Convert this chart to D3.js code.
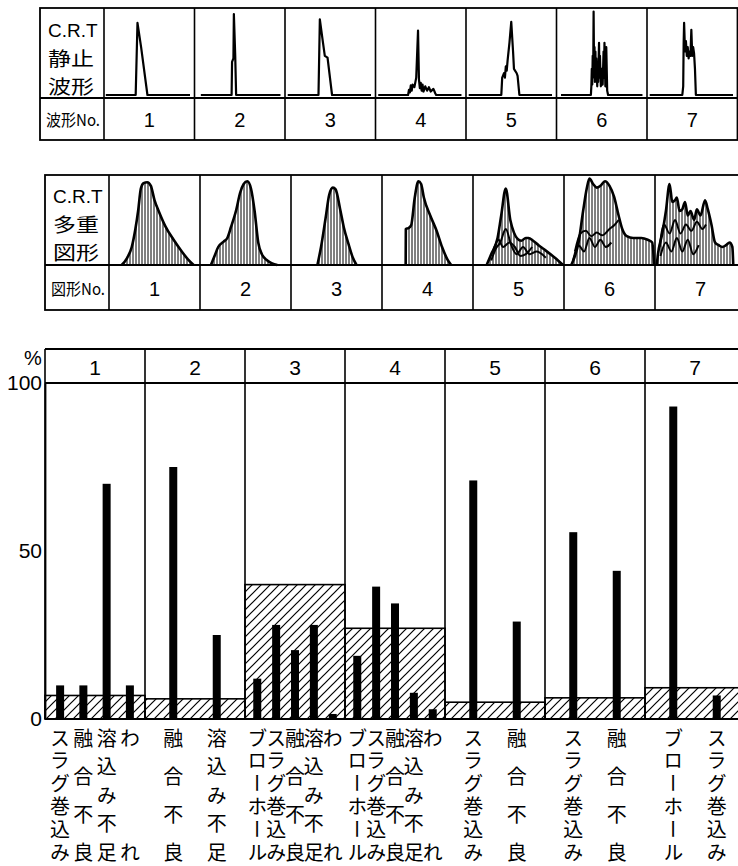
<!DOCTYPE html>
<html>
<head>
<meta charset="utf-8">
<script src="https://cdn.jsdelivr.net/npm/d3@7"></script>
<style>
  html, body { margin: 0; padding: 0; background: #fff; }
  svg { display: block; }
</style>
</head>
<body>
<svg id="fig" width="738" height="866"></svg>
<script>
// ---------------- data ----------------
const patternNos = ["1", "2", "3", "4", "5", "6", "7"];

// C.R.T static waveforms: [position across cell 0..1, amplitude 0..1]
const staticWave1 = [[0.02,0],[0.35,0],[0.37,0.83],[0.41,0.55],[0.48,0],[0.95,0]];
const staticWave2 = [[0.07,0],[0.41,0],[0.415,0.38],[0.43,0.42],[0.435,0.93],[0.45,0.45],[0.46,0],[0.95,0]];
const staticWave3 = [[0.03,0],[0.37,0],[0.385,0.87],[0.42,0.6],[0.44,0.45],[0.47,0.43],[0.52,0],[0.95,0]];
const staticWave4 = [[0.03,0],[0.36,0],[0.37,0.06],[0.38,0.03],[0.39,0.11],[0.40,0.05],[0.41,0.12],[0.43,0.09],[0.45,0.2],[0.47,0.74],[0.48,0.18],[0.49,0.08],[0.50,0.14],[0.51,0.05],[0.52,0.12],[0.53,0.04],[0.55,0.1],[0.57,0.05],[0.59,0.09],[0.61,0.04],[0.64,0.07],[0.66,0.02],[0.67,0],[0.95,0]];
const staticWave5 = [[0.03,0],[0.39,0],[0.40,0.2],[0.42,0.25],[0.43,0.2],[0.44,0.33],[0.45,0.28],[0.46,0.4],[0.48,0.6],[0.50,0.84],[0.52,0.5],[0.53,0.3],[0.56,0.25],[0.57,0.22],[0.59,0],[0.95,0]];
const staticWave6 = [[0.05,0],[0.38,0],[0.385,0.1],[0.39,0.3],[0.395,0.12],[0.40,0.45],[0.405,0.2],[0.41,0.96],[0.415,0.3],[0.42,0.55],[0.425,0.15],[0.43,0.5],[0.435,0.2],[0.44,0.42],[0.45,0.1],[0.455,0.35],[0.46,0.15],[0.47,0.6],[0.475,0.2],[0.48,0.45],[0.49,0.1],[0.50,0.3],[0.51,0.12],[0.52,0.5],[0.525,0.2],[0.53,0.6],[0.54,0.1],[0.55,0.55],[0.56,0.05],[0.57,0],[0.95,0]];
const staticWave7 = [[0.03,0],[0.39,0],[0.40,0.1],[0.405,0.6],[0.41,0.83],[0.42,0.5],[0.43,0.62],[0.44,0.45],[0.45,0.55],[0.46,0.42],[0.47,0.5],[0.48,0.45],[0.49,0.75],[0.50,0.45],[0.51,0.55],[0.52,0.48],[0.53,0.3],[0.54,0],[0.95,0]];
const staticWaves = [staticWave1, staticWave2, staticWave3, staticWave4, staticWave5, staticWave6, staticWave7];

// C.R.T multiple-exposure figures: outline [position, amplitude]
const multiFig1 = [[0.14,0],[0.2,0.08],[0.25,0.2],[0.29,0.4],[0.32,0.6],[0.35,0.85],[0.38,0.91],[0.42,0.92],[0.46,0.88],[0.5,0.72],[0.55,0.59],[0.62,0.43],[0.71,0.28],[0.8,0.15],[0.87,0.06],[0.93,0]];
const multiFig2 = [[0.12,0],[0.16,0.1],[0.2,0.2],[0.26,0.26],[0.3,0.3],[0.34,0.42],[0.4,0.62],[0.44,0.8],[0.48,0.9],[0.52,0.93],[0.56,0.85],[0.6,0.6],[0.64,0.25],[0.68,0.12],[0.74,0.05],[0.85,0]];
const multiFig3 = [[0.29,0],[0.33,0.2],[0.38,0.52],[0.42,0.78],[0.46,0.86],[0.49,0.84],[0.54,0.62],[0.58,0.42],[0.63,0.24],[0.68,0.08],[0.72,0]];
const multiFig4 = [[0.26,0],[0.262,0.4],[0.29,0.41],[0.32,0.44],[0.36,0.75],[0.4,0.93],[0.43,0.9],[0.46,0.75],[0.53,0.55],[0.6,0.38],[0.66,0.2],[0.72,0.06],[0.76,0]];
const multiFig5 = [[0.15,0],[0.2,0.12],[0.27,0.3],[0.31,0.55],[0.36,0.85],[0.41,0.5],[0.45,0.36],[0.49,0.29],[0.53,0.27],[0.58,0.3],[0.61,0.3],[0.66,0.27],[0.72,0.22],[0.8,0.16],[0.9,0.08],[0.99,0]];
const multiFig6 = [[0.08,0],[0.12,0.1],[0.16,0.25],[0.21,0.6],[0.25,0.85],[0.28,0.96],[0.32,0.9],[0.36,0.86],[0.4,0.88],[0.45,0.93],[0.5,0.88],[0.55,0.76],[0.6,0.55],[0.64,0.4],[0.69,0.32],[0.76,0.3],[0.85,0.3],[0.92,0.28],[0.97,0.25],[0.99,0]];
const multiFig7 = [[0.02,0],[0.03,0.1],[0.08,0.35],[0.12,0.6],[0.16,0.9],[0.19,0.7],[0.22,0.72],[0.24,0.75],[0.27,0.6],[0.3,0.62],[0.33,0.7],[0.36,0.55],[0.39,0.6],[0.43,0.5],[0.46,0.62],[0.5,0.55],[0.55,0.72],[0.58,0.62],[0.62,0.45],[0.66,0.25],[0.7,0.22],[0.74,0.2],[0.78,0.22],[0.82,0.25],[0.85,0.2],[0.86,0]];
const multiFigs = [multiFig1, multiFig2, multiFig3, multiFig4, multiFig5, multiFig6, multiFig7];

// inner traces of the superimposed figures 5–7
const multiInner5 = [
  [[0.2,0.05],[0.25,0.18],[0.3,0.25],[0.36,0.4],[0.42,0.22],[0.48,0.12],[0.55,0.2],[0.62,0.12],[0.7,0.15],[0.8,0.08]],
  [[0.22,0.15],[0.28,0.28],[0.33,0.2],[0.4,0.25],[0.46,0.2],[0.52,0.1],[0.58,0.12],[0.65,0.2]]
];
const multiInner6 = [
  [[0.12,0.15],[0.18,0.35],[0.24,0.38],[0.3,0.32],[0.36,0.36],[0.42,0.33],[0.5,0.4],[0.56,0.45],[0.6,0.5]],
  [[0.1,0.05],[0.16,0.22],[0.22,0.15],[0.28,0.3],[0.34,0.2],[0.4,0.28],[0.46,0.2],[0.52,0.25]]
];
const multiInner7 = [
  [[0.05,0.2],[0.1,0.45],[0.16,0.35],[0.22,0.5],[0.28,0.35],[0.34,0.45],[0.4,0.38],[0.46,0.48],[0.52,0.4],[0.56,0.45]],
  [[0.06,0.1],[0.12,0.25],[0.18,0.15],[0.24,0.3],[0.3,0.15],[0.36,0.28],[0.42,0.12],[0.48,0.22]]
];
const multiInners = [[], [], [], [], multiInner5, multiInner6, multiInner7];

// defect rates (%) per pattern group
const baseRate = [7, 6, 40, 27, 5, 6.3, 9.3];
const defectNames = [
  ["スラグ巻込み", "融合不良", "溶込み不足", "われ"],
  ["融合不良", "溶込み不足"],
  ["ブローホール", "スラグ巻込み", "融合不良", "溶込み不足", "われ"],
  ["ブローホール", "スラグ巻込み", "融合不良", "溶込み不足", "われ"],
  ["スラグ巻込み", "融合不良"],
  ["スラグ巻込み", "融合不良"],
  ["ブローホール", "スラグ巻込み"]
];
const defectRates = [
  [10, 10, 70, 10],
  [75, 25],
  [12, 28, 20.5, 28, 1.5],
  [18.8, 39.4, 34.4, 7.8, 2.9],
  [71, 29],
  [55.6, 44.1],
  [93, 7]
];
const yTicks = [0, 50, 100];

// ---------------- drawing ----------------
const svg = d3.select("#fig");
const FONT_JP = "'Noto Sans CJK JP', 'Noto Sans', sans-serif";
const FONT_NUM = "'Liberation Sans', Arial, sans-serif";

const defs = svg.append("defs");
defs.append("pattern")
  .attr("id", "vhatch").attr("patternUnits", "userSpaceOnUse")
  .attr("width", 3).attr("height", 10)
  .append("line").attr("x1", 1).attr("x2", 1).attr("y1", 0).attr("y2", 10)
  .attr("stroke", "#000").attr("stroke-width", 1);
defs.append("pattern")
  .attr("id", "dhatch").attr("patternUnits", "userSpaceOnUse")
  .attr("width", 9).attr("height", 9)
  .append("path").attr("d", "M0,9 L9,0 M-2,2 L2,-2 M7,11 L11,7")
  .attr("stroke", "#000").attr("stroke-width", 1.2);

// table with a label column, a picture row and a number row
function drawTable(cfg) {
  const g = svg.append("g");
  const x = d3.scaleBand().domain(patternNos).range([cfg.x1, cfg.x1 + cfg.colW * patternNos.length]);
  const right = x.range()[1];
  g.append("rect").attr("x", cfg.x0).attr("y", cfg.y0)
    .attr("width", right - cfg.x0).attr("height", cfg.y2 - cfg.y0)
    .attr("fill", "none").attr("stroke", "#000").attr("stroke-width", 1.8);
  g.append("line").attr("x1", cfg.x0).attr("x2", right).attr("y1", cfg.y1).attr("y2", cfg.y1)
    .attr("stroke", "#000").attr("stroke-width", 1.8);
  g.selectAll("line.col").data(patternNos).join("line").attr("class", "col")
    .attr("x1", d => x(d)).attr("x2", d => x(d)).attr("y1", cfg.y0).attr("y2", cfg.y2)
    .attr("stroke", "#000").attr("stroke-width", 1.6);
  // three-line heading: C.R.T and two wide-set kanji lines
  cfg.labelLines.forEach((t, i) => {
    const tx = g.append("text").attr("x", cfg.x0 + 8).attr("y", cfg.labelY[i])
      .attr("dominant-baseline", "central")
      .attr("font-family", i === 0 ? FONT_NUM : FONT_JP)
      .attr("font-size", i === 0 ? 19 : 19)
      .text(t);
    if (i > 0) tx.attr("textLength", 46).attr("lengthAdjust", "spacingAndGlyphs");
  });
  g.append("text").attr("x", cfg.x0 + 6).attr("y", (cfg.y1 + cfg.y2) / 2)
    .attr("font-family", FONT_JP).attr("font-size", 16)
    .attr("dominant-baseline", "central")
    .attr("textLength", cfg.x1 - cfg.x0 - 10).attr("lengthAdjust", "spacingAndGlyphs")
    .text(cfg.noLabel);
  g.selectAll("text.no").data(patternNos).join("text").attr("class", "no")
    .attr("x", d => x(d) + x.bandwidth() / 2).attr("y", (cfg.y1 + cfg.y2) / 2 + 1)
    .attr("text-anchor", "middle").attr("dominant-baseline", "central")
    .attr("font-family", FONT_NUM).attr("font-size", 20)
    .text(d => d);
  return x;
}

// ---- table 1 : static waveforms
const t1 = { x0: 40, x1: 104, colW: 90.5, y0: 8, y1: 98, y2: 140,
  labelLines: ["C.R.T", "静止", "波形"], labelY: [30, 57, 85], noLabel: "波形No." };
const x1 = drawTable(t1);
patternNos.forEach((p, i) => {
  const sx = d3.scaleLinear().domain([0, 1]).range([x1(p), x1(p) + x1.bandwidth()]);
  const sy = d3.scaleLinear().domain([0, 1]).range([95, 8]);
  const line = d3.line().x(d => sx(d[0])).y(d => sy(d[1]));
  svg.append("path").attr("d", line(staticWaves[i]))
    .attr("fill", "none").attr("stroke", "#000").attr("stroke-width", 2.2)
    .attr("stroke-linejoin", "round");
});

// ---- table 2 : multiple-exposure figures
const t2 = { x0: 45, x1: 109, colW: 91, y0: 175, y1: 265, y2: 310,
  labelLines: ["C.R.T", "多重", "図形"], labelY: [196, 223, 251], noLabel: "図形No." };
const x2 = drawTable(t2);
patternNos.forEach((p, i) => {
  const sx = d3.scaleLinear().domain([0, 1]).range([x2(p), x2(p) + x2.bandwidth()]);
  const sy = d3.scaleLinear().domain([0, 1]).range([265, 175]);
  const area = d3.area().x(d => sx(d[0])).y0(sy(0)).y1(d => sy(d[1])).curve(d3.curveMonotoneX);
  const line = d3.line().x(d => sx(d[0])).y(d => sy(d[1])).curve(d3.curveMonotoneX);
  svg.append("path").attr("d", area(multiFigs[i])).attr("fill", "url(#vhatch)");
  svg.append("path").attr("d", line(multiFigs[i]))
    .attr("fill", "none").attr("stroke", "#000").attr("stroke-width", 2.6)
    .attr("stroke-linejoin", "round");
  multiInners[i].forEach(tr => {
    svg.append("path").attr("d", line(tr))
      .attr("fill", "none").attr("stroke", "#000").attr("stroke-width", 2)
      .attr("stroke-linejoin", "round");
  });
});

// ---- bar chart of defect rates
const chart = { left: 45, groupW: 100, top: 349, y100: 383, y0: 719 };
const gx = d3.scaleBand().domain(patternNos)
  .range([chart.left, chart.left + chart.groupW * patternNos.length]);
const y = d3.scaleLinear().domain([0, 100]).range([chart.y0, chart.y100]);
const bc = svg.append("g");

// hatched base rate per group
bc.selectAll("rect.base").data(patternNos).join("rect").attr("class", "base")
  .attr("x", d => gx(d)).attr("width", gx.bandwidth())
  .attr("y", (d, i) => y(baseRate[i])).attr("height", (d, i) => y(0) - y(baseRate[i]))
  .attr("fill", "url(#dhatch)").attr("stroke", "#000").attr("stroke-width", 1.6);

// frame, header row and group dividers
const right = gx.range()[1];
[chart.top, y(100), y(0)].forEach(yy => {
  bc.append("line").attr("x1", chart.left).attr("x2", right).attr("y1", yy).attr("y2", yy)
    .attr("stroke", "#000").attr("stroke-width", 1.8);
});
bc.selectAll("line.div").data(patternNos.concat(["end"])).join("line").attr("class", "div")
  .attr("x1", (d, i) => chart.left + i * gx.bandwidth()).attr("x2", (d, i) => chart.left + i * gx.bandwidth())
  .attr("y1", chart.top).attr("y2", y(0))
  .attr("stroke", "#000").attr("stroke-width", 1.6);
bc.selectAll("text.hdr").data(patternNos).join("text").attr("class", "hdr")
  .attr("x", d => gx(d) + gx.bandwidth() / 2).attr("y", (chart.top + y(100)) / 2 + 1)
  .attr("text-anchor", "middle").attr("dominant-baseline", "central")
  .attr("font-family", FONT_NUM).attr("font-size", 21)
  .text(d => d);

// y axis labels
const yAxis = d3.axisLeft(y).tickValues(yTicks).tickSize(0).tickPadding(3);
const ya = bc.append("g").attr("transform", `translate(${chart.left},0)`).call(yAxis);
ya.select(".domain").attr("stroke", "#000").attr("stroke-width", 1.8);
ya.selectAll("text").attr("font-family", FONT_NUM).attr("font-size", 21).attr("fill", "#000");
bc.append("text").attr("x", 33).attr("y", 358).attr("text-anchor", "middle")
  .attr("dominant-baseline", "central").attr("font-family", FONT_NUM).attr("font-size", 20)
  .text("%");

// black bars and vertically set labels (one text per label, one tspan per character)
const labelTop = 738, labelBottom = 852;
patternNos.forEach((p, gi) => {
  const names = defectNames[gi];
  const bx = d3.scalePoint().domain(names.map((n, k) => k))
    .range([gx(p), gx(p) + gx.bandwidth()]).padding(0.65);
  const bw = 8;
  names.forEach((name, k) => {
    const cx = bx(k);
    const v = defectRates[gi][k];
    bc.append("rect").attr("x", cx - bw / 2).attr("width", bw)
      .attr("y", y(v)).attr("height", y(0) - y(v)).attr("fill", "#000");
    const chars = Array.from(name);
    const rowY = d3.scalePoint().domain(d3.range(chars.length)).range([labelTop, labelBottom]);
    bc.append("text")
      .style("writing-mode", "vertical-rl")
      .attr("text-anchor", "middle")
      .attr("font-family", FONT_JP).attr("font-size", 20)
      .selectAll("tspan").data(chars).join("tspan")
      .attr("x", cx).attr("y", (d, ci) => rowY(ci))
      .text(d => d);
  });
});
</script>
</body>
</html>
